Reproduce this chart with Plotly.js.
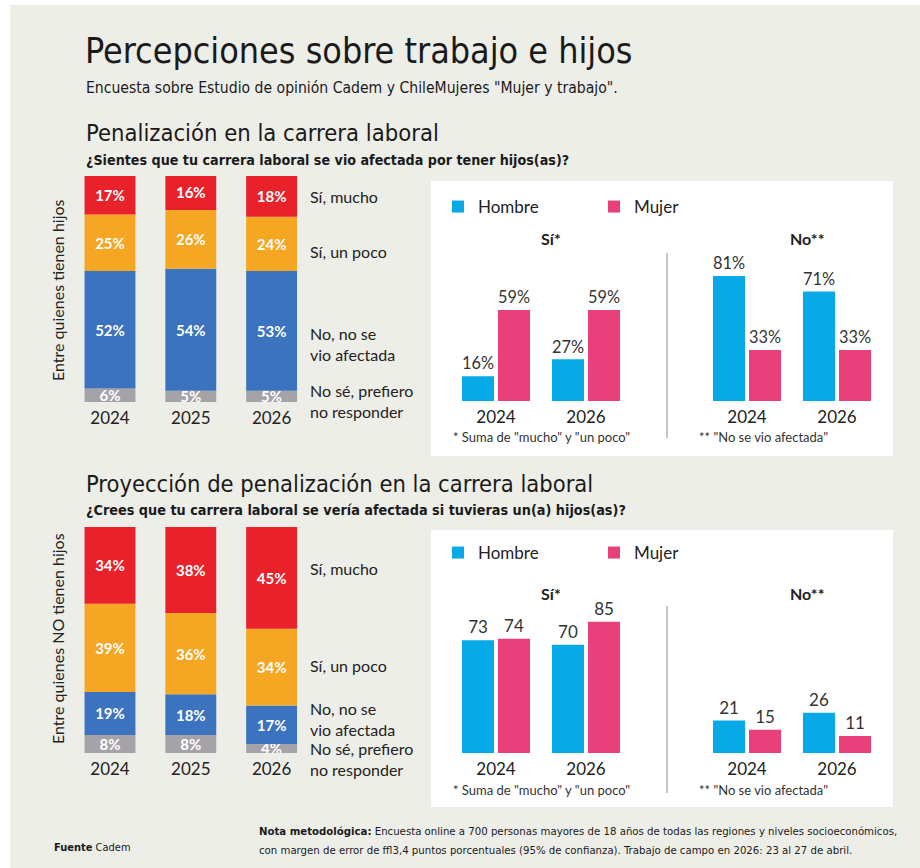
<!DOCTYPE html>
<html><head><meta charset="utf-8">
<script src="https://cdn.plot.ly/plotly-3.0.1.min.js"></script>
<style>html,body{margin:0;padding:0;background:#fff}#chart{width:920px;height:868px}</style>
</head><body><div id="chart"></div>
<script>
// ---- data ----
const years3 = ['2024', '2025', '2026'];
const years2 = ['2024', '2026'];
const segNames = ['No sé, prefiero no responder', 'No, no se vio afectada', 'Sí, un poco', 'Sí, mucho'];
// con hijos (stack from bottom)
const conHijosNS = [6, 5, 5];
const conHijosNo = [52, 54, 53];
const conHijosPoco = [25, 26, 24];
const conHijosMucho = [17, 16, 18];
// sin hijos
const sinHijosNS = [8, 8, 4];
const sinHijosNo = [19, 18, 17];
const sinHijosPoco = [39, 36, 34];
const sinHijosMucho = [34, 38, 45];
// por sexo, con hijos
const conSiHombre = [16, 27];
const conSiMujer = [59, 59];
const conNoHombre = [81, 71];
const conNoMujer = [33, 33];
// por sexo, sin hijos
const sinSiHombre = [73, 70];
const sinSiMujer = [74, 85];
const sinNoHombre = [21, 26];
const sinNoMujer = [15, 11];

// ---- style ----
const W = 920, H = 868;
const px = v => v / W, py = v => 1 - v / H;
const COND = '"Liberation Sans Narrow", "DejaVu Sans Condensed", Roboto, sans-serif';
const BODY = 'Lato, "Open Sans", sans-serif';
const C = {red: '#e8212b', orange: '#f5a623', blue: '#3b73be', gray: '#a5a3a8', hombre: '#07aae6', mujer: '#e8407a', text: '#222222'};
const segColors = [C.gray, C.blue, C.orange, C.red];

const traces = [];
function stacked(series, xa, ya) {
  const base = years3.map(() => 0);
  series.forEach((vals, i) => {
    traces.push({
      type: 'bar', x: years3, y: vals, base: base.slice(), name: segNames[i],
      xaxis: xa, yaxis: ya, offsetgroup: 'stk' + xa, width: 0.63, offset: -0.315,
      marker: {color: segColors[i], line: {width: 0}},
      text: vals.map(v => v + '%'), textposition: 'inside', insidetextanchor: 'middle',
      constraintext: 'none', textfont: {family: BODY, size: 15, color: '#ffffff', weight: 'bold'},
      showlegend: false, hoverinfo: 'skip'
    });
    vals.forEach((v, j) => base[j] += v);
  });
}
stacked([conHijosNS, conHijosNo, conHijosPoco, conHijosMucho], 'x', 'y');
stacked([sinHijosNS, sinHijosNo, sinHijosPoco, sinHijosMucho], 'x4', 'y4');

function grouped(h, m, xa, ya, suffix, legend, show) {
  [[h, 'Hombre', C.hombre, 'h'], [m, 'Mujer', C.mujer, 'm']].forEach(([vals, name, col, g]) => {
    traces.push({
      type: 'bar', x: years2, y: vals, name: name, xaxis: xa, yaxis: ya, offsetgroup: g,
      marker: {color: col, line: {width: 0}}, legend: legend, showlegend: show,
      text: vals.map(v => v + suffix), textposition: 'outside', cliponaxis: false,
      textfont: {family: BODY, size: 17, color: '#333333'}, hoverinfo: 'skip'
    });
  });
}
grouped(conSiHombre, conSiMujer, 'x2', 'y2', '%', 'legend', true);
grouped(conNoHombre, conNoMujer, 'x3', 'y3', '%', 'legend', false);
grouped(sinSiHombre, sinSiMujer, 'x5', 'y5', '', 'legend2', true);
grouped(sinNoHombre, sinNoMujer, 'x6', 'y6', '', 'legend2', false);

const xStyle = {type: 'category', showgrid: false, zeroline: false, showline: false, ticks: '',
  ticklabelstandoff: 4, tickfont: {family: BODY, size: 17, color: C.text}, fixedrange: true};
const yStyle = {showgrid: false, zeroline: false, showline: false, showticklabels: false, ticks: '', fixedrange: true};
const stackX = [px(69.6), px(312)];
const siX = [px(451), px(631)];
const noX = [px(702), px(882)];

const annotations = [];
function ann(text, x, y, o) {
  annotations.push(Object.assign({text: text, x: px(x), y: py(y), xref: 'paper', yref: 'paper',
    showarrow: false, xanchor: 'left', yanchor: 'middle', align: 'left',
    font: {family: BODY, size: 16, color: C.text}}, o || {}));
}
ann('Percepciones sobre trabajo e hijos', 83, 51, {font: {family: COND, size: 35.6, color: '#1a1a1a'}});
ann('Encuesta sobre Estudio de opinión Cadem y ChileMujeres "Mujer y trabajo".', 84, 88, {font: {family: COND, size: 15.6, color: '#1a1a1a'}});
ann('Penalización en la carrera laboral', 84, 133, {font: {family: COND, size: 23.6, color: '#1a1a1a'}});
ann('<b>¿Sientes que tu carrera laboral se vio afectada por tener hijos(as)?</b>', 84, 160, {font: {family: COND, size: 14.2, color: '#1a1a1a'}});
ann('Proyección de penalización en la carrera laboral', 84, 484, {font: {family: COND, size: 23.5, color: '#1a1a1a'}});
ann('<b>¿Crees que tu carrera laboral se vería afectada si tuvieras un(a) hijos(as)?</b>', 84, 510, {font: {family: COND, size: 14.3, color: '#1a1a1a'}});

ann('Entre quienes tienen hijos', 57, 290, {textangle: -90, xanchor: 'center', font: {family: BODY, size: 16, color: C.text}});
ann('Entre quienes NO tienen hijos', 57, 639, {textangle: -90, xanchor: 'center', font: {family: BODY, size: 16, color: C.text}});

[['Sí, mucho', 196], ['Sí, un poco', 251], ['No, no se<br>vio afectada', 343.5], ['No sé, prefiero<br>no responder', 401.5],
 ['Sí, mucho', 568], ['Sí, un poco', 665], ['No, no se<br>vio afectada', 718.5], ['No sé, prefiero<br>no responder', 758.5]]
  .forEach(([t, y]) => ann(t, 308, y));

[[239, 'Sí*', 551], [239, 'No**', 807], [593, 'Sí*', 551], [593, 'No**', 807]].forEach(([y, t, x]) =>
  ann('<b>' + t + '</b>', x, y, {xanchor: 'center', font: {family: BODY, size: 16, color: C.text}}));
[[437], [790]].forEach(([y]) => {
  ann('* Suma de "mucho" y "un poco"', 451, y, {font: {family: BODY, size: 13, color: '#333'}});
  ann('** "No se vio afectada"', 697, y, {font: {family: BODY, size: 13, color: '#333'}});
});
ann('<b>Fuente</b> Cadem', 52, 847, {font: {family: COND, size: 11, color: '#1a1a1a'}});
ann('<b>Nota metodológica:</b> Encuesta online a 700 personas mayores de 18 años de todas las regiones y niveles socioeconómicos,', 257, 831, {font: {family: COND, size: 11.3, color: '#1a1a1a'}});
ann('con margen de error de ffl3,4 puntos porcentuales (95% de confianza). Trabajo de campo en 2026: 23 al 27 de abril.', 257, 850, {font: {family: COND, size: 11.3, color: '#1a1a1a'}});

const shapes = [
  {type: 'rect', xref: 'paper', yref: 'paper', x0: px(10), x1: 1, y0: 0, y1: py(5), fillcolor: '#eeeee8', line: {width: 0}, layer: 'below'},
  {type: 'rect', xref: 'paper', yref: 'paper', x0: px(431), x1: px(893), y0: py(456), y1: py(181), fillcolor: '#ffffff', line: {width: 0}, layer: 'below'},
  {type: 'rect', xref: 'paper', yref: 'paper', x0: px(431), x1: px(893), y0: py(807), y1: py(530), fillcolor: '#ffffff', line: {width: 0}, layer: 'below'},
  {type: 'line', xref: 'paper', yref: 'paper', x0: px(667), x1: px(667), y0: py(438), y1: py(253), line: {color: '#8a8a8a', width: 1}},
  {type: 'line', xref: 'paper', yref: 'paper', x0: px(667), x1: px(667), y0: py(793), y1: py(606), line: {color: '#8a8a8a', width: 1}}
];

const legendStyle = {orientation: 'h', xanchor: 'left', yanchor: 'middle', bgcolor: 'rgba(0,0,0,0)',
  entrywidth: 111, entrywidthmode: 'pixels', itemwidth: 30, font: {family: BODY, size: 17, color: C.text},
  itemclick: false, itemdoubleclick: false};

const layout = {
  width: W, height: H, margin: {l: 0, r: 0, t: 0, b: 0},
  paper_bgcolor: '#ffffff', plot_bgcolor: 'rgba(0,0,0,0)',
  barmode: 'group', bargap: 0.2, bargroupgap: 0.11,
  showlegend: true,
  legend: Object.assign({x: px(438), y: py(207)}, legendStyle),
  legend2: Object.assign({x: px(438), y: py(553)}, legendStyle),
  xaxis: Object.assign({domain: stackX, anchor: 'y'}, xStyle),
  yaxis: Object.assign({domain: [py(402), py(176)], range: [0, 100], anchor: 'x'}, yStyle),
  xaxis2: Object.assign({domain: siX, anchor: 'y2'}, xStyle),
  yaxis2: Object.assign({domain: [py(401), py(250)], range: [0, 97.9], anchor: 'x2'}, yStyle),
  xaxis3: Object.assign({domain: noX, anchor: 'y3'}, xStyle),
  yaxis3: Object.assign({domain: [py(401), py(250)], range: [0, 97.9], anchor: 'x3'}, yStyle),
  xaxis4: Object.assign({domain: stackX, anchor: 'y4'}, xStyle),
  yaxis4: Object.assign({domain: [py(753), py(527)], range: [0, 100], anchor: 'x4'}, yStyle),
  xaxis5: Object.assign({domain: siX, anchor: 'y5'}, xStyle),
  yaxis5: Object.assign({domain: [py(753), py(600)], range: [0, 99], anchor: 'x5'}, yStyle),
  xaxis6: Object.assign({domain: noX, anchor: 'y6'}, xStyle),
  yaxis6: Object.assign({domain: [py(753), py(600)], range: [0, 99], anchor: 'x6'}, yStyle),
  annotations: annotations, shapes: shapes,
  font: {family: BODY, color: C.text}
};
Plotly.newPlot('chart', traces, layout, {displayModeBar: false, staticPlot: true});
</script></body></html>
